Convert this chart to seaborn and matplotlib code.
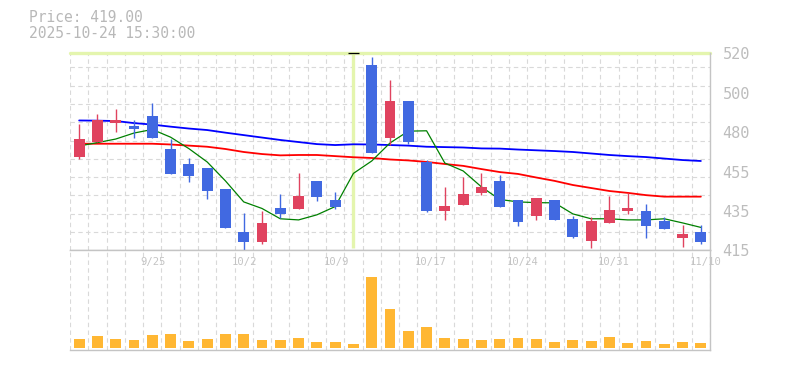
import numpy as np
import pandas as pd
import matplotlib
matplotlib.use("Agg")
import matplotlib.pyplot as plt
import matplotlib.transforms as mtransforms
import seaborn as sns

nan = np.nan

# ---------------- data ----------------
dates = ["9/18", "9/19", "9/22", "9/24", "9/25", "9/26", "9/29", "9/30", "10/1", "10/2",
         "10/3", "10/6", "10/7", "10/8", "10/9", "10/10", "10/14", "10/15", "10/16", "10/17",
         "10/20", "10/21", "10/22", "10/23", "10/24", "10/27", "10/28", "10/29", "10/30", "10/31",
         "11/4", "11/5", "11/6", "11/7", "11/10"]

opens = [464.9, 472.8, 482.9, 481.2, 486.5, 469.0, 461.0, 458.9, 447.7, 424.8,
         419.2, 437.6, 437.2, 452.0, 442.0, nan, 513.6, 475.0, 494.5, 462.1,
         436.2, 439.4, 445.7, 452.0, 441.9, 433.5, 441.9, 431.8, 420.2, 429.3,
         436.2, 436.0, 430.7, 421.3, 424.8]
highs = [482.3, 487.6, 490.2, 484.4, 493.4, 474.3, 464.2, 458.9, 447.7, 434.9,
         436.0, 445.0, 456.2, 452.0, 446.1, nan, 517.9, 505.6, 494.5, 463.1,
         448.8, 454.1, 456.2, 455.1, 441.9, 442.9, 441.9, 433.5, 433.0, 444.1,
         445.6, 439.7, 432.8, 428.7, 428.7]
lows = [463.6, 472.5, 478.2, 475.0, 475.0, 455.7, 451.6, 442.5, 427.1, 414.9,
        418.1, 432.4, 437.2, 441.5, 437.2, nan, 467.0, 471.1, 471.8, 435.5,
        431.4, 439.4, 444.7, 438.3, 428.2, 431.4, 431.4, 421.3, 416.0, 429.3,
        434.6, 421.3, 426.1, 417.0, 418.1]
closes = [474.3, 484.4, 484.4, 479.6, 475.0, 455.7, 454.8, 446.8, 427.1, 419.2,
          429.6, 434.6, 444.1, 443.6, 438.3, nan, 467.0, 494.5, 472.8, 436.0,
          438.7, 445.0, 448.9, 438.3, 430.3, 442.9, 431.4, 422.3, 430.7, 436.5,
          437.6, 428.2, 426.1, 423.9, 419.2]

ma_short = [470.6, 472.4, 474.3, 477.5, 479.4, 475.3, 469.2, 462.1, 452.0, 440.8,
            437.3, 431.8, 431.2, 433.9, 438.3, 456.0, 462.6, 472.2, 478.5, 478.7,
            461.5, 457.3, 448.8, 442.1, 440.8, 440.4, 440.3, 434.4, 431.8, 431.8,
            431.2, 431.2, 431.8, 429.6, 427.2]
ma_mid = [471.8, 471.8, 471.8, 471.8, 471.8, 471.4, 470.8, 470.2, 469.0, 467.4,
          466.3, 465.6, 465.8, 465.8, 465.2, 464.6, 464.2, 463.4, 462.9, 462.1,
          461.0, 460.0, 458.3, 456.7, 455.7, 453.8, 452.0, 449.8, 448.2, 446.6,
          445.6, 444.4, 443.6, 443.6, 443.6]
ma_long = [484.2, 484.1, 483.9, 482.8, 482.0, 480.9, 479.9, 479.1, 477.7, 476.4,
           475.1, 473.8, 472.7, 471.6, 471.1, 471.5, 471.4, 471.1, 470.8, 470.2,
           470.0, 469.8, 469.3, 469.2, 468.7, 468.3, 467.9, 467.4, 466.6, 465.8,
           465.2, 464.7, 463.9, 463.1, 462.6]

volume = [87, 117, 87, 77, 127, 137, 67, 87, 137, 137,
          77, 77, 97, 57, 57, 37, 707, 387, 167, 207,
          97, 87, 77, 87, 97, 87, 57, 77, 67, 107,
          47, 67, 37, 57, 47]

tick_dates = ["9/25", "10/2", "10/9", "10/17", "10/24", "10/31", "11/10"]
ytick_vals = [415, 436, 457, 478, 499, 520]
ytick_labels = ["415", "435", "455", "480", "500", "520"]
price_text = "Price: 419.00"
time_text = "2025-10-24 15:30:00"
cursor_index = 15
cursor_price = 520

# ---------------- style ----------------
sns.set_theme(style="white")
plt.rcParams["font.family"] = ["DejaVu Sans Mono", "DejaVu Sans"]

UP = "#E0435F"
DOWN = "#4169E1"
VOL = "#FFB733"
GRID = "#d9d9d9"
FRAME = "#c4c4c4"
TXT = "#b8b8b8"
CROSS = "#e4f5ae"

W, H = 785, 370
fig = plt.figure(figsize=(W / 100, H / 100), dpi=100)
fig.patch.set_facecolor("white")

L, R = 70, 710
P_TOP, P_BOT = 53.3, 250.3
V_BOT = 349.7
ax = fig.add_axes([L / W, 1 - P_BOT / H, (R - L) / W, (P_BOT - P_TOP) / H])
axv = fig.add_axes([L / W, 1 - V_BOT / H, (R - L) / W, (V_BOT - P_BOT) / H])

n = len(dates)
idx = np.arange(n)
df = pd.DataFrame({"i": idx, "date": dates, "open": opens, "high": highs,
                   "low": lows, "close": closes, "ma_s": ma_short, "ma_m": ma_mid,
                   "ma_l": ma_long, "vol": volume})

ylo, yhi = 415, 520
grid_kw = dict(color=GRID, lw=0.8, ls=(0, (4, 3)), zorder=0)

# ---------- price panel ----------
for a in (ax, axv):
    for k in range(n + 1):
        a.axvline(k - 0.5, **grid_kw)
step = (yhi - ylo) * 18.29 / (P_BOT - P_TOP)
for k in range(1, 11):
    ax.axhline(ylo + step * k, **grid_kw)

# cursor
ax.axhline(cursor_price, color=CROSS, lw=2.4, zorder=1.5, clip_on=False)
ax.vlines(cursor_index, 416.3, cursor_price, color=CROSS, lw=2.4, zorder=1.5)
ax.hlines(cursor_price + 0.35, cursor_index - 0.3, cursor_index + 0.3, color="black",
          lw=0.9, zorder=4, clip_on=False)

sns.lineplot(data=df, x="i", y="ma_l", ax=ax, color="#0000FF", lw=1.3, zorder=2)
sns.lineplot(data=df, x="i", y="ma_m", ax=ax, color="#FF0000", lw=1.3, zorder=2)
sns.lineplot(data=df, x="i", y="ma_s", ax=ax, color="#008000", lw=0.9, zorder=2)

valid = df.dropna(subset=["open"])
cols = [UP if c >= o else DOWN for o, c in zip(valid["open"], valid["close"])]
ax.vlines(valid["i"], valid["low"], valid["high"], colors=cols, lw=1.0, zorder=3)
body_lo = np.minimum(valid["open"], valid["close"])
body_h = np.maximum(np.abs(valid["close"] - valid["open"]), 0.6)
ax.bar(valid["i"], body_h, bottom=body_lo, width=0.6, color=cols, lw=0, zorder=3)

ax.set_xlim(-0.5, n - 0.5)
ax.set_ylim(ylo, yhi)
ax.set_xticks([])
ax.set_xlabel("")
ax.set_ylabel("")
ax.yaxis.tick_right()
ax.set_yticks(ytick_vals)
ax.set_yticklabels(ytick_labels)
ax.tick_params(axis="y", length=0, pad=9, labelsize=11, labelcolor="#bdbdbd")
for s in ("left", "top"):
    ax.spines[s].set_visible(False)
for s in ("bottom", "right"):
    ax.spines[s].set_color(FRAME)
    ax.spines[s].set_linewidth(1.0)

# ---------- volume panel ----------
sns.barplot(data=df, x="i", y="vol", ax=axv, native_scale=True, color=VOL,
            saturation=1, width=0.6, linewidth=0, zorder=2)
axv.set_xlim(-0.5, n - 0.5)
axv.set_ylim(-20, (P_BOT - 347.7) * -10 * -1 + 0)
axv.set_ylim(-20, (347.7 - P_BOT) * 10)
axv.set_xticks([])
axv.set_yticks([])
axv.set_xlabel("")
axv.set_ylabel("")
for s in ("left",):
    axv.spines[s].set_visible(False)
for s in ("bottom", "right", "top"):
    axv.spines[s].set_color(FRAME)
    axv.spines[s].set_linewidth(1.0)

off = mtransforms.ScaledTranslation(-11.5 / 100, 0, fig.dpi_scale_trans)
tr = mtransforms.blended_transform_factory(axv.transData, axv.transAxes) + off
for d in tick_dates:
    axv.text(dates.index(d), 1 - 12 / (V_BOT - P_BOT), d, transform=tr, ha="left",
             va="center", fontsize=7.6, color="#c4c4c4", clip_on=False)

# ---------- header ----------
fig.text(29 / W, 1 - 18 / H, price_text, ha="left", va="center", fontsize=10.5, color=TXT)
fig.text(29 / W, 1 - 33 / H, time_text, ha="left", va="center", fontsize=10.5, color=TXT)

fig.savefig("out.png", dpi=100, facecolor="white")
